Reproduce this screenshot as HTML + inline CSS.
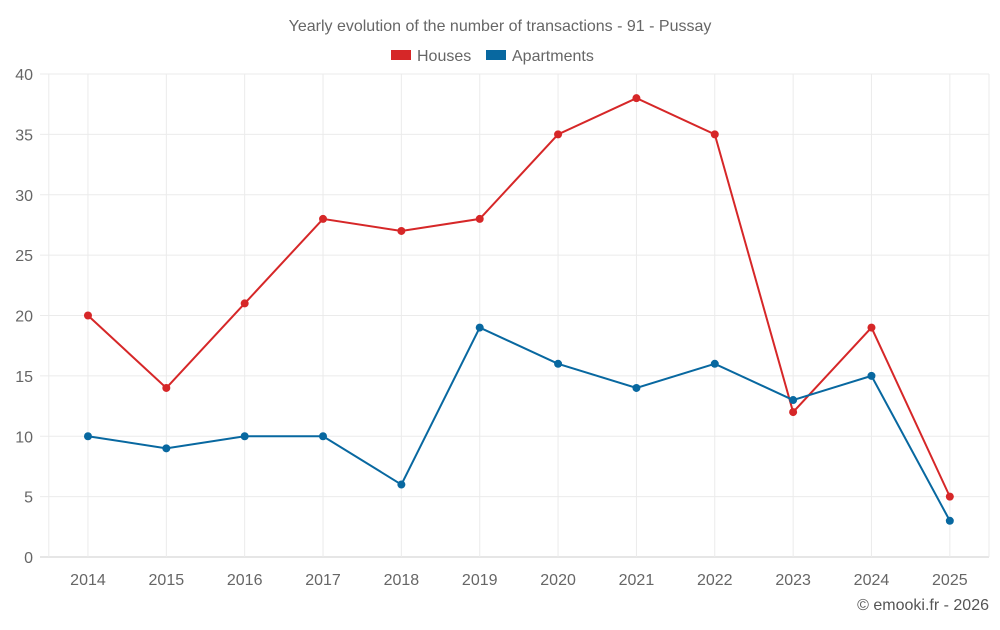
<!DOCTYPE html>
<html><head><meta charset="utf-8"><style>
body{margin:0;background:#fff;font-family:"Liberation Sans",sans-serif;}
svg text{font-family:"Liberation Sans",sans-serif;}
</style></head><body>
<svg id="chart" width="1000" height="625" xmlns="http://www.w3.org/2000/svg">
<text x="500" y="31" text-anchor="middle" font-size="16" fill="#666">Yearly evolution of the number of transactions - 91 - Pussay</text>
<g>
<g><rect x="391" y="50" width="20" height="10" fill="#d62728"/><text x="417" y="61" font-size="16" fill="#666">Houses</text></g>
<g><rect x="486" y="50" width="20" height="10" fill="#0868a0"/><text x="512" y="61" font-size="16" fill="#666">Apartments</text></g>
</g>
<g id="grid"></g><g id="axes"></g><g id="series"></g>
<text x="989" y="610" text-anchor="end" font-size="16" fill="#555">© emooki.fr - 2026</text>
</svg>
<script>
const categories=['2014','2015','2016','2017','2018','2019','2020','2021','2022','2023','2024','2025'];
const houses=[20,14,21,28,27,28,35,38,35,12,19,5];
const apartments=[10,9,10,10,6,19,16,14,16,13,15,3];
const yTicks=[0,5,10,15,20,25,30,35,40];
const NS='http://www.w3.org/2000/svg';
const L=48.8,R=989,T=74,B=557,yMax=40;
const step=(R-L)/categories.length;
const x=i=>L+step*(i+0.5);
const y=v=>B-(v/yMax)*(B-T);
function mk(t,a,p){const e=document.createElementNS(NS,t);for(const k in a)e.setAttribute(k,a[k]);p.appendChild(e);return e;}
const grid=document.getElementById('grid'),axes=document.getElementById('axes'),ser=document.getElementById('series');
yTicks.forEach(v=>{
 const l=mk('line',{x1:40,x2:R,y1:y(v),y2:y(v),stroke:v===0?'#ccc':'#ebebeb'},grid);
 
 
 const t=mk('text',{x:33,y:y(v)+6,'text-anchor':'end','font-size':16,fill:'#666'},axes);
 t.textContent=v;
 
 
});
[L,R].forEach(gx=>{
 const l=mk('line',{x1:gx,x2:gx,y1:T,y2:B,stroke:'#ebebeb'},grid);
 
 
});
categories.forEach((c,i)=>{
 const l=mk('line',{x1:x(i),x2:x(i),y1:T,y2:B,stroke:'#ebebeb'},grid);
 
 
 const t=mk('text',{x:x(i),y:585,'text-anchor':'middle','font-size':16,fill:'#666'},axes);
 t.textContent=c;
 
 
});
function draw(vals,color,name){
 const p=mk('polyline',{points:vals.map((v,i)=>x(i)+','+y(v)).join(' '),fill:'none',stroke:color,'stroke-width':2},ser);
 
 
 vals.forEach((v,i)=>{
  const c=mk('circle',{cx:x(i),cy:y(v),r:4,fill:color},ser);
  
  
 });
}
draw(houses,'#d62728','houses');
draw(apartments,'#0868a0','apartments');
</script>
</body></html>
